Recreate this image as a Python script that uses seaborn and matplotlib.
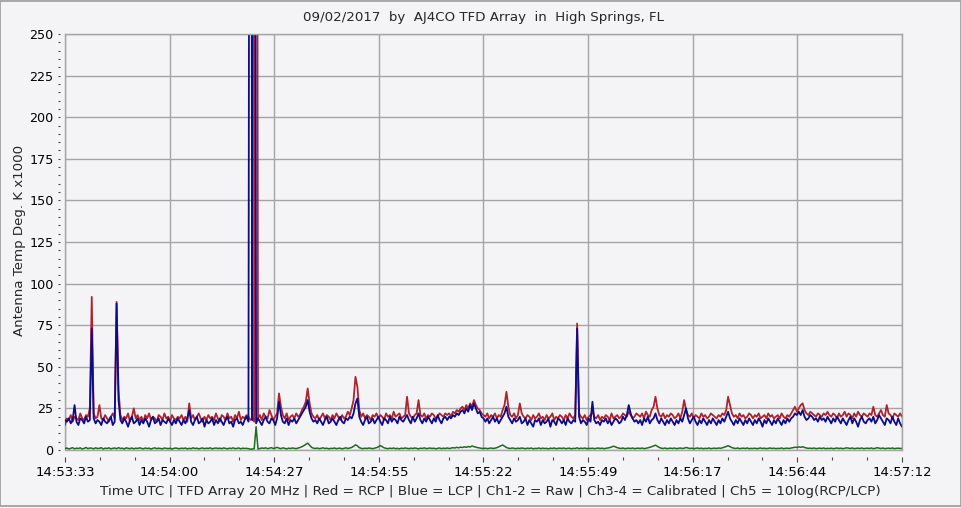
import numpy as np
import pandas as pd
import matplotlib
matplotlib.use("Agg")
import matplotlib.pyplot as plt
from matplotlib.ticker import FixedLocator, MultipleLocator
from matplotlib.patches import Rectangle
import seaborn as sns

# --- chart text ---
TITLE = "09/02/2017  by  AJ4CO TFD Array  in  High Springs, FL"
X_LABEL = ("Time UTC | TFD Array 20 MHz | Red = RCP | Blue = LCP | Ch1-2 = Raw | "
           "Ch3-4 = Calibrated | Ch5 = 10log(RCP/LCP)")
Y_LABEL = "Antenna Temp Deg. K x1000"

# time axis: seconds after 14:53:33 UTC, one sample every half second
SAMPLE_STEP_S = 0.5
SPAN_S = 219
TIME_TICK_LABELS = ["14:53:33", "14:54:00", "14:54:27", "14:54:55", "14:55:22",
                    "14:55:49", "14:56:17", "14:56:44", "14:57:12"]
Y_MAX = 250

# --- channels (K x1000) ---
rcp = [
    15, 19, 18, 21, 17, 20, 19, 18, 22, 19, 18, 21, 20, 25, 92, 22, 19, 20, 27, 19,
    18, 21, 19, 17, 20, 22, 19, 89, 36, 21, 18, 20, 19, 22, 17, 20, 25, 19, 21, 18,
    20, 17, 21, 19, 22, 18, 20, 19, 17, 21, 20, 18, 22, 19, 20, 17, 21, 19, 18, 20,
    19, 21, 18, 20, 17, 28, 19, 21, 18, 20, 22, 19, 17, 20, 18, 21, 19, 20, 18, 22,
    19, 17, 21, 20, 18, 22, 19, 20, 17, 21, 19, 23, 18, 20, 19, 21, 20, 18, 19, 17,
    900, 19, 21, 18, 22, 20, 19, 24, 21, 18, 20, 22, 34, 26, 21, 19, 22, 18, 20, 21,
    19, 22, 20, 21, 24, 26, 29, 37, 28, 22, 20, 19, 21, 18, 20, 22, 19, 21, 20, 18,
    21, 19, 22, 20, 18, 21, 19, 20, 23, 21, 25, 30, 44, 38, 24, 20, 22, 19, 21, 20,
    18, 21, 20, 22, 19, 21, 20, 18, 22, 20, 21, 19, 23, 20, 21, 22, 19, 20, 21, 32,
    22, 20, 19, 21, 22, 30, 21, 20, 22, 19, 21, 20, 22, 21, 19, 20, 22, 21, 20, 22,
    21, 22, 20, 23, 22, 24, 23, 25, 26, 24, 27, 25, 28, 26, 30, 27, 25, 24, 22, 21,
    20, 22, 19, 21, 20, 22, 19, 21, 20, 24, 27, 35, 26, 21, 20, 22, 19, 21, 28, 22,
    20, 19, 21, 20, 18, 21, 19, 20, 22, 19, 20, 18, 21, 19, 20, 22, 18, 20, 19, 21,
    20, 18, 21, 19, 22, 20, 19, 21, 76, 22, 20, 19, 21, 18, 20, 21, 23, 20, 19, 21,
    18, 20, 19, 21, 20, 18, 22, 19, 20, 21, 19, 20, 22, 21, 20, 23, 21, 19, 20, 22,
    21, 20, 22, 19, 23, 21, 20, 24, 26, 32, 25, 21, 20, 22, 19, 21, 20, 22, 21, 19,
    20, 22, 19, 23, 30, 24, 21, 20, 22, 19, 21, 20, 19, 22, 20, 21, 19, 20, 22, 21,
    20, 19, 21, 20, 22, 21, 24, 32, 27, 22, 20, 21, 19, 22, 20, 21, 19, 20, 22, 21,
    19, 21, 20, 22, 19, 20, 21, 19, 22, 20, 21, 19, 20, 21, 19, 22, 20, 19, 21, 20,
    22, 24, 26, 23, 25, 27, 28, 24, 22, 21, 23, 22, 21, 20, 22, 21, 20, 22, 21, 23,
    21, 20, 22, 21, 19, 22, 20, 21, 23, 20, 22, 21, 19, 22, 20, 23, 21, 20, 22, 21,
    20, 22, 21, 26, 21, 20, 22, 24, 21, 20, 27, 22, 21, 19, 22, 21, 20, 22, 20,
]

lcp = [
    18, 17, 19, 16, 18, 27, 17, 15, 19, 18, 16, 20, 17, 18, 73, 19, 16, 18, 17, 15,
    19, 17, 16, 18, 20, 15, 17, 88, 30, 18, 16, 19, 17, 14, 18, 20, 16, 17, 19, 15,
    18, 16, 19, 17, 14, 18, 20, 16, 17, 19, 15, 18, 17, 16, 19, 17, 15, 18, 16, 19,
    17, 15, 18, 16, 19, 24, 17, 15, 18, 20, 16, 17, 19, 14, 18, 16, 17, 19, 15, 18,
    16, 19, 17, 15, 18, 20, 16, 17, 14, 18, 19, 16, 17, 15, 18, 20, 17, 900, 18, 900,
    16, 19, 17, 15, 18, 20, 17, 16, 19, 18, 15, 19, 29, 21, 17, 16, 19, 15, 18, 17,
    19, 16, 18, 20, 22, 24, 26, 30, 23, 19, 17, 18, 16, 19, 17, 15, 18, 20, 16, 17,
    19, 17, 15, 18, 20, 17, 16, 19, 18, 20, 19, 22, 28, 31, 20, 17, 15, 18, 20, 16,
    17, 19, 16, 18, 20, 17, 15, 19, 18, 16, 20, 17, 19, 18, 16, 20, 18, 17, 19, 21,
    18, 16, 20, 17, 19, 22, 18, 16, 19, 17, 20, 18, 16, 19, 17, 21, 18, 16, 19, 20,
    18, 20, 19, 21, 20, 22, 21, 23, 24, 22, 25, 23, 27, 24, 28, 25, 22, 23, 20, 19,
    17, 19, 16, 18, 20, 17, 19, 16, 18, 20, 22, 26, 20, 18, 16, 19, 17, 18, 20, 16,
    17, 19, 15, 18, 16, 14, 18, 17, 19, 15, 18, 16, 17, 19, 14, 18, 17, 15, 19, 18,
    16, 18, 15, 19, 17, 16, 18, 17, 73, 20, 16, 18, 17, 15, 19, 17, 29, 18, 16, 17,
    15, 18, 17, 19, 16, 18, 15, 17, 19, 18, 16, 17, 20, 18, 21, 27, 22, 19, 17, 18,
    16, 18, 15, 19, 17, 20, 16, 18, 19, 22, 18, 16, 19, 17, 15, 18, 16, 19, 17, 15,
    18, 16, 19, 17, 21, 25, 19, 16, 18, 20, 17, 15, 18, 16, 19, 17, 15, 18, 16, 19,
    17, 15, 18, 16, 19, 17, 20, 23, 19, 17, 15, 18, 16, 19, 17, 15, 18, 16, 19, 17,
    15, 18, 16, 19, 17, 14, 18, 16, 19, 17, 15, 18, 16, 19, 17, 15, 18, 16, 19, 17,
    19, 20, 22, 21, 23, 21, 24, 20, 18, 19, 21, 20, 18, 19, 17, 20, 18, 19, 17, 20,
    18, 16, 19, 17, 20, 18, 16, 19, 17, 15, 18, 20, 16, 19, 17, 14, 18, 20, 17, 16,
    18, 19, 17, 20, 16, 18, 21, 19, 17, 15, 19, 18, 16, 20, 17, 15, 19, 16, 14,
]

ratio = [
    0.8, 1.2, 0.6, 1.0, 1.4, 0.7, 1.1, 0.9, 1.3, 0.6, 1.0, 1.5, 0.8, 1.2, 1.1, 0.7, 1.3, 0.9, 1.0, 1.4,
    0.6, 1.1, 0.9, 1.3, 0.7, 1.0, 1.2, 0.8, 1.4, 0.9, 1.1, 0.6, 1.3, 1.0, 0.8, 1.2, 0.7, 1.1, 0.9, 1.3,
    1.0, 0.7, 1.2, 0.9, 1.1, 0.6, 1.0, 1.3, 0.8, 1.1, 0.9, 0.7, 1.2, 1.0, 0.8, 1.1, 0.6, 1.0, 1.2, 0.9,
    0.8, 1.1, 0.9, 1.2, 0.7, 1.0, 0.8, 1.3, 0.9, 1.1, 0.7, 1.0, 1.2, 0.8, 1.1, 0.9, 1.3, 0.7, 1.0, 1.2,
    0.9, 1.1, 0.8, 1.2, 1.0, 0.7, 1.1, 0.9, 1.3, 0.8, 1.0, 1.2, 0.7, 1.1, 0.9, 1.0, 0.8, 0.5, 0.6, 0.7,
    14.0, 0.6, 0.9, 1.2, 1.0, 1.3, 0.8, 1.1, 1.4, 0.9, 1.2, 1.6, 1.1, 0.8, 1.3, 1.0, 0.7, 1.1, 0.9, 1.2,
    1.0, 0.8, 1.2, 1.5, 2.0, 2.6, 3.4, 4.1, 2.8, 1.6, 1.1, 0.9, 1.2, 0.8, 1.0, 1.3, 0.9, 1.1, 0.7, 1.0,
    0.9, 1.2, 0.8, 1.0, 1.1, 0.7, 1.0, 1.3, 0.9, 1.2, 1.5, 2.2, 3.1, 2.5, 1.4, 1.0, 0.8, 1.1, 0.9, 1.2,
    1.0, 0.8, 1.1, 1.4, 1.9, 2.7, 2.0, 1.3, 1.0, 0.8, 1.1, 0.9, 1.2, 0.8, 1.0, 0.7, 1.1, 0.9, 1.2, 1.0,
    0.8, 1.1, 0.9, 1.2, 1.0, 0.7, 1.1, 0.9, 1.3, 0.8, 1.0, 1.2, 0.9, 1.1, 0.7, 1.0, 1.2, 0.8, 1.1, 0.9,
    1.2, 0.9, 1.1, 1.4, 1.2, 1.6, 1.3, 1.7, 1.5, 1.9, 1.6, 2.1, 1.8, 2.4, 2.0, 1.7, 1.4, 1.2, 1.0, 0.9,
    1.1, 0.8, 1.0, 1.2, 0.9, 1.1, 1.4, 1.9, 2.5, 3.0, 2.3, 1.5, 1.1, 0.9, 1.2, 1.0, 0.8, 1.1, 0.9, 1.2,
    1.0, 0.8, 1.1, 0.9, 1.2, 0.7, 1.0, 0.9, 1.2, 0.8, 1.1, 0.9, 1.0, 0.7, 1.1, 0.9, 1.2, 0.8, 1.0, 1.1,
    0.9, 1.2, 0.8, 1.0, 1.1, 0.7, 1.0, 0.9, 1.3, 0.8, 1.1, 0.9, 1.2, 0.8, 1.0, 0.9, 1.1, 0.8, 1.0, 1.2,
    0.9, 1.1, 0.8, 1.0, 1.2, 1.4, 1.8, 2.3, 1.9, 1.4, 1.1, 0.9, 1.2, 0.8, 1.0, 1.1, 0.9, 1.2, 0.8, 1.0,
    1.1, 0.9, 1.2, 0.8, 1.0, 1.3, 1.6, 2.0, 2.4, 2.9, 2.2, 1.5, 1.1, 0.9, 1.2, 0.8, 1.0, 1.1, 0.9, 1.2,
    0.8, 1.0, 1.2, 0.9, 1.1, 1.5, 1.2, 0.9, 1.1, 0.8, 1.0, 1.2, 0.9, 1.1, 0.8, 1.0, 0.9, 1.2, 0.8, 1.0,
    1.1, 0.9, 1.2, 1.0, 1.3, 1.7, 2.1, 2.6, 2.0, 1.4, 1.1, 0.9, 1.2, 0.8, 1.0, 1.1, 0.9, 1.2, 0.8, 1.0,
    0.9, 1.1, 0.8, 1.0, 1.2, 0.9, 1.1, 0.8, 1.0, 1.2, 0.9, 1.1, 0.8, 1.0, 0.9, 1.2, 0.8, 1.0, 1.1, 0.9,
    1.2, 1.4, 1.7, 1.5, 1.9, 1.6, 2.0, 1.5, 1.2, 1.0, 1.1, 0.9, 1.2, 0.8, 1.0, 1.1, 0.9, 1.2, 0.8, 1.0,
    0.9, 1.1, 0.8, 1.0, 1.2, 0.9, 1.1, 0.8, 1.0, 1.3, 1.1, 0.9, 1.2, 0.8, 1.0, 1.1, 0.9, 1.2, 0.8, 1.0,
    1.1, 0.9, 1.2, 0.8, 1.0, 1.4, 1.1, 0.9, 1.2, 0.8, 1.0, 1.1, 0.9, 1.2, 0.8, 1.0, 1.1, 0.9, 1.0,
]

CHANNELS = {"Ch5": ratio, "RCP": rcp, "LCP": lcp}
PALETTE = {"Ch5": "#1f6b1f", "RCP": "#b0232e", "LCP": "#0c0c8a"}
WIDTHS = {"Ch5": 1.1, "RCP": 1.3, "LCP": 1.3}

BG = "#f4f4f7"
GRID = "#a4a4a4"
PX = 72 / 100  # points per pixel at dpi 100


def build_frame():
    frames = []
    for name, vals in CHANNELS.items():
        frames.append(pd.DataFrame({
            "t": np.arange(len(vals)) * SAMPLE_STEP_S,
            "value": vals,
            "channel": name,
        }))
    return pd.concat(frames, ignore_index=True)


def main():
    sns.set_theme(style="white")
    plt.rcParams["font.family"] = ["DejaVu Sans"]

    df = build_frame()

    fig = plt.figure(figsize=(9.62, 5.08), dpi=100, facecolor=BG)
    ax = fig.add_axes([65 / 962, 58 / 508, 837 / 962, 416 / 508])
    ax.set_facecolor(BG)

    # draw order: ratio, then RCP, then LCP on top
    for name in ["Ch5", "RCP", "LCP"]:
        sns.lineplot(data=df[df["channel"] == name], x="t", y="value",
                     color=PALETTE[name], estimator=None, sort=False,
                     linewidth=WIDTHS[name], ax=ax)

    ax.set_xlim(0, SPAN_S)
    ax.set_ylim(0, Y_MAX)

    # --- ticks / grid ---
    major_x = np.linspace(0, SPAN_S, len(TIME_TICK_LABELS))
    ax.xaxis.set_major_locator(FixedLocator(major_x))
    ax.xaxis.set_minor_locator(FixedLocator(np.linspace(0, SPAN_S, 3 * (len(TIME_TICK_LABELS) - 1) + 1)))
    ax.set_xticklabels(TIME_TICK_LABELS)
    ax.yaxis.set_major_locator(MultipleLocator(25))
    ax.yaxis.set_minor_locator(MultipleLocator(5))

    ax.grid(True, which="major", color=GRID, linewidth=1, zorder=0)
    ax.set_axisbelow(True)

    # tick marks sit a few pixels away from the frame, so push the
    # left/bottom spines out, hide them and redraw the frame edge
    ax.spines["left"].set_position(("outward", 5 * PX))
    ax.spines["bottom"].set_position(("outward", 7 * PX))
    ax.spines["left"].set_visible(False)
    ax.spines["bottom"].set_visible(False)
    for side in ["right", "top"]:
        ax.spines[side].set_color(GRID)
        ax.spines[side].set_linewidth(1)
    ax.axvline(0, color=GRID, linewidth=1, zorder=0.5, clip_on=False)
    ax.axhline(0, color=GRID, linewidth=1, zorder=0.5, clip_on=False)

    ax.tick_params(axis="both", which="both", direction="out", color="#444444",
                   labelcolor="black", width=0.8, bottom=True, left=True)
    ax.tick_params(axis="x", which="major", length=5 * PX, pad=4.5 * PX, labelsize=9.5)
    ax.tick_params(axis="x", which="minor", length=3 * PX)
    ax.tick_params(axis="y", which="major", length=2.5 * PX, pad=4 * PX, labelsize=9.2)
    ax.tick_params(axis="y", which="minor", length=2.5 * PX)
    ax.set_xlabel("")
    ax.set_ylabel("")

    fig.text(484 / 962, 1 - 18 / 508, TITLE, ha="center", va="center", fontsize=9.6)
    fig.text(490 / 962, 1 - 492 / 508, X_LABEL, ha="center", va="center", fontsize=9.7)
    fig.text(20 / 962, 1 - 240 / 508, Y_LABEL, ha="center", va="center",
             rotation=90, fontsize=9.6)

    # thin frame round the whole panel
    fig.patches.append(Rectangle((0.0005, 0.003), 0.998, 0.995, transform=fig.transFigure,
                                 fill=False, edgecolor="#9a9a9a", linewidth=1.2))

    fig.savefig("out.png", dpi=100, facecolor=BG)
    plt.close(fig)


if __name__ == "__main__":
    main()
